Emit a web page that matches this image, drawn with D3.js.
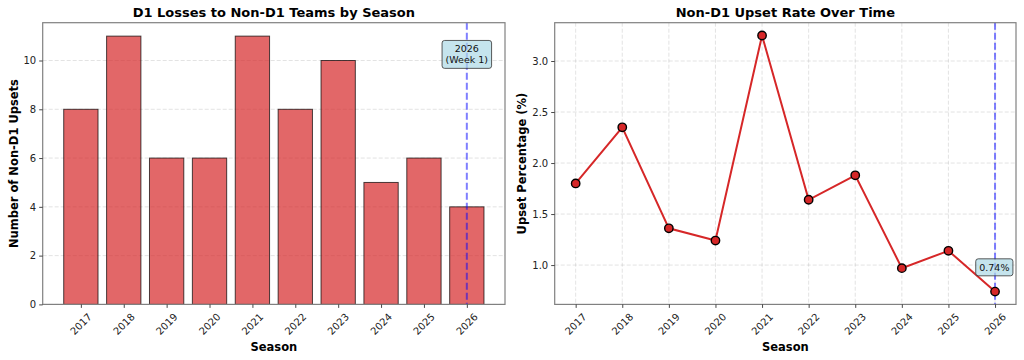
<!DOCTYPE html>
<html><head><meta charset="utf-8">
<script src="https://cdn.jsdelivr.net/npm/d3@7"></script>
<style>
body{margin:0;background:#fff;}
svg{display:block;font-family:"DejaVu Sans",sans-serif;}
</style></head>
<body>
<svg id="c" width="1024" height="360"></svg>
<script>
const seasons = ["2017","2018","2019","2020","2021","2022","2023","2024","2025","2026"];
const upsets = [8, 11, 6, 6, 11, 8, 10, 5, 6, 4];
const upsetPct = [1.80, 2.35, 1.36, 1.24, 3.25, 1.64, 1.88, 0.97, 1.14, 0.74];
const leftYTicks = [0, 2, 4, 6, 8, 10];
const rightYTicks = [1.0, 1.5, 2.0, 2.5, 3.0];
const leftTitle = "D1 Losses to Non-D1 Teams by Season";
const rightTitle = "Non-D1 Upset Rate Over Time";
const leftNote = ["2026", "(Week 1)"];
const rightNote = "0.74%";

const svg = d3.select("#c");
const red = "#d62728";

function frame(g, x0, x1, y0, y1) {
  g.append("rect").attr("x", x0).attr("y", y0).attr("width", x1 - x0).attr("height", y1 - y0)
    .attr("fill", "none").attr("stroke", "#808080").attr("stroke-width", 1.2);
}
function styleAxis(a) {
  a.select(".domain").remove();
  a.selectAll(".tick line").attr("stroke", "#333").attr("stroke-width", 0.9);
  a.selectAll(".tick text").attr("fill", "#222").style("font-size", "10px").style("font-family", "DejaVu Sans");
}
function rotateX(a) {
  a.selectAll(".tick text").attr("text-anchor", "middle").attr("dy", null).attr("y", 0)
    .attr("transform", "translate(0,20) rotate(-45)").attr("dominant-baseline", "middle");
}
function noteBox(parent, cx, cy, lines, fs) {
  const g = parent.append("g");
  const t = g.append("text").attr("text-anchor", "middle").style("font-size", fs + "px").attr("fill", "#111");
  const lh = fs * 1.15;
  lines.forEach((l, i) => {
    t.append("tspan").attr("x", cx).attr("y", cy + (i - (lines.length - 1) / 2) * lh).attr("dominant-baseline", "central").text(l);
  });
  const bb = t.node().getBBox();
  const p = 3.5;
  g.insert("rect", "text").attr("x", bb.x - p).attr("y", bb.y - p + 0.5).attr("width", bb.width + 2 * p).attr("height", bb.height + 2 * p - 1)
    .attr("rx", 2.5).attr("fill", "#add8e6").attr("fill-opacity", 0.7).attr("stroke", "#333").attr("stroke-opacity", 0.8).attr("stroke-width", 1);
}

// ---------- LEFT ----------
{
  const L = 42.7, R = 505, T = 22.7, B = 304.4;
  const x = d3.scaleLinear().domain([-0.89, 9.89]).range([L, R]);
  const y = d3.scaleLinear().domain([0, 11.55]).range([B, T]);
  const g = svg.append("g");
  g.append("g").selectAll("line").data(leftYTicks).join("line")
    .attr("x1", L).attr("x2", R).attr("y1", d => y(d)).attr("y2", d => y(d))
    .attr("stroke", "#b0b0b0").attr("stroke-opacity", 0.45).attr("stroke-dasharray", "4,2").attr("stroke-width", 0.8);
  const bw = x(0.4) - x(-0.4);
  g.append("g").selectAll("rect").data(upsets).join("rect")
    .attr("x", (d, i) => x(i) - bw / 2).attr("width", bw)
    .attr("y", d => y(d)).attr("height", d => y(0) - y(d))
    .attr("fill", red).attr("fill-opacity", 0.7).attr("stroke", "#000").attr("stroke-opacity", 0.7).attr("stroke-width", 1);
  g.append("line").attr("x1", x(9)).attr("x2", x(9)).attr("y1", T).attr("y2", B)
    .attr("stroke", "blue").attr("stroke-opacity", 0.5).attr("stroke-width", 2).attr("stroke-dasharray", "7,3");
  frame(g, L, R, T, B);
  const ax = g.append("g").attr("transform", `translate(0,${B})`)
    .call(d3.axisBottom(x).tickValues(d3.range(seasons.length)).tickFormat(i => seasons[i]).tickSizeOuter(0).tickSize(3.5));
  styleAxis(ax); rotateX(ax);
  const ay = g.append("g").attr("transform", `translate(${L},0)`)
    .call(d3.axisLeft(y).tickValues(leftYTicks).tickFormat(d3.format("d")).tickSize(3.5));
  styleAxis(ay);
  noteBox(g, x(9), y(10.25), leftNote, 9.5);
  g.append("text").attr("x", (L + R) / 2).attr("y", 17).attr("text-anchor", "middle")
    .style("font-size", "13px").style("font-weight", "bold").text(leftTitle);
  g.append("text").attr("x", (L + R) / 2).attr("y", 351).attr("text-anchor", "middle")
    .style("font-size", "11.5px").style("font-weight", "bold").text("Season");
  g.append("text").attr("transform", `translate(18,${(T + B) / 2}) rotate(-90)`).attr("text-anchor", "middle")
    .style("font-size", "11.5px").style("font-weight", "bold").text("Number of Non-D1 Upsets");
}

// ---------- RIGHT ----------
{
  const L = 554.7, R = 1016, T = 22.7, B = 304.4;
  const x = d3.scaleLinear().domain([-0.45, 9.45]).range([L, R]);
  const y = d3.scaleLinear().domain([0.6145, 3.3755]).range([B, T]);
  const g = svg.append("g");
  const gs = { stroke: "#b0b0b0", op: 0.45 };
  g.append("g").selectAll("line").data(rightYTicks).join("line")
    .attr("x1", L).attr("x2", R).attr("y1", d => y(d)).attr("y2", d => y(d))
    .attr("stroke", gs.stroke).attr("stroke-opacity", gs.op).attr("stroke-dasharray", "4,2").attr("stroke-width", 0.8);
  g.append("g").selectAll("line").data(d3.range(seasons.length)).join("line")
    .attr("y1", T).attr("y2", B).attr("x1", d => x(d)).attr("x2", d => x(d))
    .attr("stroke", gs.stroke).attr("stroke-opacity", gs.op).attr("stroke-dasharray", "4,2").attr("stroke-width", 0.8);
  g.append("line").attr("x1", x(9)).attr("x2", x(9)).attr("y1", T).attr("y2", B)
    .attr("stroke", "blue").attr("stroke-opacity", 0.5).attr("stroke-width", 2).attr("stroke-dasharray", "7,3");
  const line = d3.line().x((d, i) => x(i)).y(d => y(d));
  g.append("path").datum(upsetPct).attr("d", line).attr("fill", "none").attr("stroke", red).attr("stroke-width", 2);
  g.append("g").selectAll("circle").data(upsetPct).join("circle")
    .attr("cx", (d, i) => x(i)).attr("cy", d => y(d)).attr("r", 4.2)
    .attr("fill", red).attr("stroke", "#000").attr("stroke-width", 1.4);
  frame(g, L, R, T, B);
  const ax = g.append("g").attr("transform", `translate(0,${B})`)
    .call(d3.axisBottom(x).tickValues(d3.range(seasons.length)).tickFormat(i => seasons[i]).tickSizeOuter(0).tickSize(3.5));
  styleAxis(ax); rotateX(ax);
  const ay = g.append("g").attr("transform", `translate(${L},0)`)
    .call(d3.axisLeft(y).tickValues(rightYTicks).tickFormat(d3.format(".1f")).tickSize(3.5));
  styleAxis(ay);
  noteBox(g, x(9) - 0.7, y(0.978), [rightNote], 9.5);
  g.append("text").attr("x", (L + R) / 2).attr("y", 17).attr("text-anchor", "middle")
    .style("font-size", "13px").style("font-weight", "bold").text(rightTitle);
  g.append("text").attr("x", (L + R) / 2).attr("y", 351).attr("text-anchor", "middle")
    .style("font-size", "11.5px").style("font-weight", "bold").text("Season");
  g.append("text").attr("transform", `translate(526,${(T + B) / 2}) rotate(-90)`).attr("text-anchor", "middle")
    .style("font-size", "11.5px").style("font-weight", "bold").text("Upset Percentage (%)");
}
</script>
</body></html>
